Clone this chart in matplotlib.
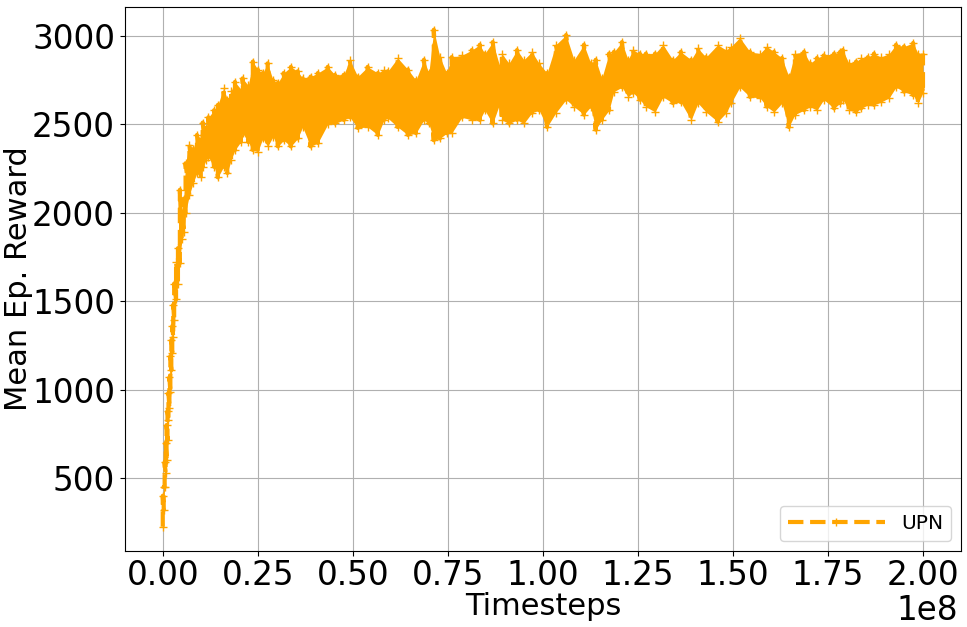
import matplotlib
matplotlib.use('Agg')
import matplotlib.pyplot as plt
from matplotlib.ticker import MultipleLocator, FuncFormatter

# timesteps (millions) with the low / high edge of the noisy reward band
steps_m = [0.0, 0.25, 0.5, 0.75, 1.0, 1.25, 1.5, 1.75, 2.0, 2.25, 2.5, 2.75, 3.0, 3.5,
           4.0, 4.5, 5.0, 5.5, 6.0, 7.0, 8.0, 9.0, 10.0, 10.5, 11.5, 12.0, 13.5, 14.5,
           16.0, 17.0, 18.0, 19.0, 20.5, 21.0, 22.5, 23.7, 25.0, 26.3, 27.6, 29.0, 30.3,
           31.8, 33.7, 35.5, 36.8, 38.9, 40.8, 43.4, 45.3, 47.6, 49.2, 51.3, 53.9, 56.6,
           58.2, 59.2, 61.8, 64.5, 66.6, 68.7, 70.0, 71.3, 72.9, 74.7, 76.0, 78.7, 81.3,
           83.4, 84.7, 86.8, 88.7, 89.2, 91.1, 93.2, 95.0, 97.1, 99.0, 101.1, 103.4,
           106.1, 108.2, 110.8, 112.6, 113.9, 115.5, 117.4, 118.7, 120.8, 122.4, 123.7,
           125.5, 127.1, 129.5, 131.6, 134.2, 136.3, 139.0, 140.8, 142.9, 146.0, 148.2,
           149.5, 151.8, 154.5, 157.1, 158.9, 160.8, 162.9, 164.7, 166.3, 168.7, 170.3,
           172.1, 173.9, 176.6, 178.2, 178.9, 180.5, 182.4, 183.7, 185.5, 187.1, 188.9,
           191.1, 192.9, 195.0, 197.4, 198.7, 200.0]

reward_low = [225, 320, 450, 530, 600, 715, 830, 895, 985, 1110, 1210, 1300, 1395, 1510,
              1600, 1715, 1850, 1890, 2000, 2100, 2170, 2225, 2200, 2260, 2300, 2315, 2260,
              2200, 2260, 2225, 2300, 2355, 2400, 2450, 2400, 2355, 2345, 2420, 2375, 2430,
              2375, 2410, 2375, 2420, 2485, 2375, 2395, 2500, 2505, 2525, 2540, 2480, 2485,
              2440, 2525, 2535, 2485, 2440, 2450, 2525, 2505, 2410, 2420, 2450, 2450, 2540,
              2525, 2525, 2580, 2505, 2620, 2525, 2505, 2525, 2505, 2565, 2580, 2485, 2565,
              2640, 2600, 2555, 2600, 2470, 2525, 2580, 2685, 2710, 2655, 2680, 2640, 2600,
              2570, 2655, 2620, 2625, 2525, 2620, 2570, 2515, 2565, 2620, 2710, 2655, 2650,
              2600, 2570, 2620, 2485, 2555, 2580, 2600, 2580, 2640, 2590, 2620, 2640, 2580,
              2570, 2590, 2610, 2610, 2625, 2650, 2710, 2685, 2665, 2620, 2680]

reward_high = [400, 450, 590, 700, 800, 880, 980, 1070, 1190, 1280, 1360, 1480, 1600, 1720,
               1800, 2130, 2000, 2080, 2280, 2385, 2360, 2440, 2420, 2510, 2480, 2540, 2580,
               2610, 2705, 2640, 2690, 2740, 2700, 2760, 2720, 2855, 2810, 2790, 2845, 2750,
               2735, 2790, 2825, 2800, 2760, 2770, 2790, 2825, 2780, 2780, 2865, 2770, 2825,
               2790, 2810, 2800, 2875, 2810, 2750, 2865, 2790, 3035, 2880, 2790, 2880, 2890,
               2920, 2950, 2900, 2965, 2825, 2900, 2845, 2920, 2865, 2910, 2845, 2790, 2950,
               3005, 2865, 2950, 2845, 2865, 2760, 2900, 2910, 2965, 2865, 2920, 2900, 2900,
               2900, 2950, 2865, 2910, 2865, 2930, 2880, 2950, 2920, 2940, 2990, 2910, 2900,
               2940, 2910, 2875, 2770, 2900, 2910, 2845, 2875, 2890, 2900, 2910, 2920, 2845,
               2855, 2875, 2880, 2900, 2880, 2900, 2950, 2940, 2960, 2900, 2900]

label = 'UPN'

# zig-zag between the band edges so the dense curve looks like the original
timesteps = []
rewards = []
for t, lo, hi in zip(steps_m, reward_low, reward_high):
    timesteps += [t * 1e6, t * 1e6]
    rewards += [lo, hi]

band_x = [t * 1e6 for t in steps_m]

fig = plt.figure(figsize=(9.67, 6.27), dpi=100)
ax = fig.add_axes([0.129, 0.121, 0.8648, 0.868])

# the original has thousands of points, so the curve reads as a solid band
ax.fill_between(band_x, reward_low, reward_high, color='orange', linewidth=0, zorder=2)
ax.plot(timesteps, rewards, color='orange', linestyle='--', linewidth=3,
        marker='+', markersize=6, label=label, zorder=3)

ax.set_ylim(87, 3164)
ax.xaxis.set_major_locator(MultipleLocator(0.25e8))
ax.xaxis.set_major_formatter(FuncFormatter(lambda v, pos: f'{v / 1e8:.2f}'))
ax.grid(True, color='#b0b0b0', linewidth=0.8)
ax.set_xlabel('Timesteps', fontsize=22)
ax.set_ylabel('Mean Ep. Reward', fontsize=22)
ax.xaxis.set_label_coords(0.5, -0.075)
ax.yaxis.set_label_coords(-0.11, 0.5)
ax.tick_params(labelsize=23.5)
ax.tick_params(axis='x', pad=2.5)
# scale factor shown under the last x tick, as the offset text does
ax.text(0.996, -0.078, '1e8', transform=ax.transAxes, ha='right', va='top',
        fontsize=23.5)
ax.legend(loc='lower right', fontsize=14.5, handlelength=4.8)

fig.savefig('out.png', dpi=100)
